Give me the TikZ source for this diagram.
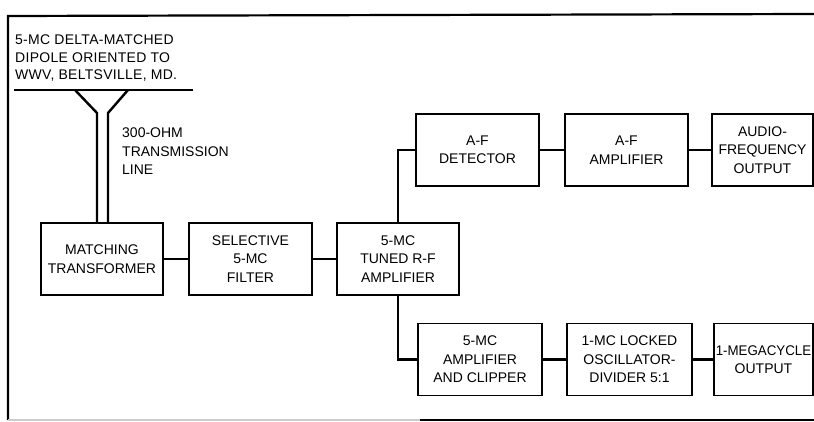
\documentclass[tikz,border=0pt]{standalone}
\usepackage{fontspec}
\setmainfont{Liberation Sans}
\newfontfamily\letterfont[LetterSpace=2]{Liberation Sans}
\usetikzlibrary{positioning}

\begin{document}
\begin{tikzpicture}[x=1pt, y=-1pt,
    every node/.style={font=\fontsize{14}{18.5}\selectfont},
    blockbox/.style={draw, line width=1.4pt, align=center, inner sep=1pt, minimum height=72pt},
    wire/.style={line width=2.4pt},
    note/.style={align=left, inner sep=0pt, anchor=north west}]
    \useasboundingbox (0,0) rectangle (814,422);
    % frame of the page
    \draw[line width=2.2pt] (8,420) -- (8,16) -- (814,14);
    \draw[line width=1.2pt, black!20] (8,420) -- (420,420);
    \draw[line width=1.6pt] (420,420) -- (814,420);

    % main chain
    \node[blockbox, minimum width=122pt] (match) at (102,259) {MATCHING\\TRANSFORMER};
    \node[blockbox, minimum width=123pt] (filter) at (250.5,259) {SELECTIVE\\5-MC\\FILTER};
    \node[blockbox, minimum width=122pt] (rfamp) at (398,259) {5-MC\\TUNED R-F\\AMPLIFIER};
    % audio branch
    \node[blockbox, minimum width=123pt] (detect) at (477.5,150) {A-F\\DETECTOR};
    \node[blockbox, minimum width=123pt] (afamp) at (626.5,150) {A-F\\AMPLIFIER};
    \node[blockbox, minimum width=101pt] (audio) at (762.5,150) {AUDIO-\\FREQUENCY\\OUTPUT};
    % 1-mc branch
    \node[blockbox, minimum width=124pt] (clipper) at (480,359.5) {5-MC\\AMPLIFIER\\AND CLIPPER};
    \node[blockbox, minimum width=125pt] (divider) at (629.5,359.5) {1-MC LOCKED\\OSCILLATOR-\\DIVIDER 5:1};
    \node[blockbox, minimum width=99pt] (mcout) at (763.5,359.5) {\scalebox{0.95}[1]{1-MEGACYCLE}\\OUTPUT};

    % antenna and feed line
    \node[note, font=\letterfont\fontsize{14}{17.5}\selectfont] (dipole) at (15,35) {5-MC DELTA-MATCHED\\DIPOLE ORIENTED TO\\WWV, BELTSVILLE, MD.};
    \node[note] (feedlbl) at (122,128) {300-OHM\\TRANSMISSION\\LINE};
    \coordinate (dipL) at (14,90);
    \coordinate (dipR) at (193,90);
    \coordinate (armL) at (75,90);
    \coordinate (armR) at (128,90);
    \coordinate (feedL) at (97,113);
    \coordinate (feedR) at (108,113);
    \draw[wire] (dipL) -- (dipR);
    \draw[wire] (armL) -- (feedL) -- (feedL |- match.north);
    \draw[wire] (armR) -- (feedR) -- (feedR |- match.north);

    \draw[wire] (match) -- (filter);
    \draw[wire] (filter) -- (rfamp);
    \draw[wire] (rfamp.north) |- (detect.west);
    \draw[wire] (rfamp.south) |- (clipper.west);
    \draw[wire] (detect) -- (afamp);
    \draw[wire] (afamp) -- (audio);
    \draw[wire] (clipper) -- (divider);
    \draw[wire] (divider) -- (mcout);
\end{tikzpicture}
\end{document}
